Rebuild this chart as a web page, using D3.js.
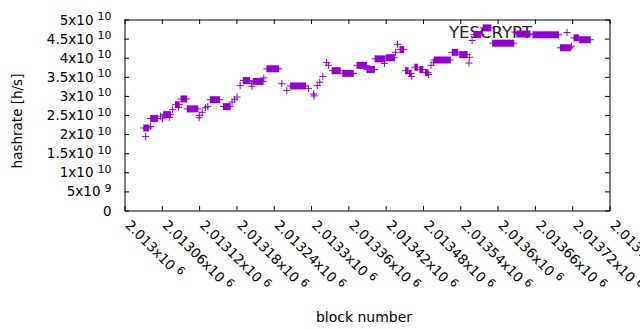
<!DOCTYPE html>
<html>
<head>
<meta charset="utf-8">
<script src="https://cdn.jsdelivr.net/npm/d3@7"></script>
<style>
body { margin: 0; background: white; }
svg { display: block; font-family: "DejaVu Sans", sans-serif; }
</style>
</head>
<body>
<script>
// x ticks (block number) and their labels, mantissa + exponent
const xTicks = [2013000, 2013060, 2013120, 2013180, 2013240, 2013300, 2013360,
    2013420, 2013480, 2013540, 2013600, 2013660, 2013720, 2013780];
const xTickLabels = ["2.013", "2.01306", "2.01312", "2.01318", "2.01324", "2.0133", "2.01336",
    "2.01342", "2.01348", "2.01354", "2.0136", "2.01366", "2.01372", "2.01378"];
const xTickExp = "6";

const yTicks = [0, 5e9, 1e10, 1.5e10, 2e10, 2.5e10, 3e10, 3.5e10, 4e10, 4.5e10, 5e10];
const yTickLabels = ["0", "5", "1", "1.5", "2", "2.5", "3", "3.5", "4", "4.5", "5"];
const yTickExp = ["", "9", "10", "10", "10", "10", "10", "10", "10", "10", "10"];

// runs of consecutive blocks sharing the same hashrate estimate
const runStart = [2013031, 2013034, 2013042, 2013042, 2013058, 2013061, 2013063, 2013072, 2013077, 2013082,
    2013087, 2013091, 2013101, 2013120, 2013121, 2013125, 2013130, 2013134, 2013138, 2013159,
    2013173, 2013177, 2013181, 2013186, 2013191, 2013204, 2013205, 2013207, 2013224, 2013229,
    2013253, 2013261, 2013267, 2013296, 2013304, 2013305, 2013310, 2013314, 2013319, 2013325,
    2013328, 2013334, 2013351, 2013374, 2013390, 2013403, 2013418, 2013421, 2013436, 2013439,
    2013443, 2013452, 2013458, 2013462, 2013467, 2013475, 2013484, 2013489, 2013493, 2013497,
    2013498, 2013527, 2013539, 2013554, 2013555, 2013559, 2013562, 2013577, 2013592, 2013628,
    2013631, 2013657, 2013701, 2013719, 2013723, 2013732];
const runEnd = [2013039, 2013034, 2013042, 2013053, 2013058, 2013061, 2013074, 2013072, 2013077, 2013088,
    2013087, 2013100, 2013118, 2013120, 2013121, 2013125, 2013130, 2013134, 2013153, 2013170,
    2013173, 2013177, 2013181, 2013186, 2013201, 2013204, 2013205, 2013223, 2013224, 2013248,
    2013253, 2013261, 2013291, 2013296, 2013304, 2013305, 2013310, 2013314, 2013319, 2013325,
    2013328, 2013347, 2013368, 2013389, 2013402, 2013419, 2013418, 2013434, 2013436, 2013439,
    2013449, 2013456, 2013461, 2013462, 2013471, 2013480, 2013488, 2013489, 2013493, 2013497,
    2013524, 2013536, 2013551, 2013554, 2013555, 2013559, 2013573, 2013589, 2013626, 2013628,
    2013652, 2013698, 2013717, 2013719, 2013730, 2013749];
const hashrate = [2.16e10, 1.94e10, 2.20e10, 2.41e10, 2.47e10, 2.40e10, 2.51e10, 2.44e10, 2.64e10, 2.77e10,
    2.70e10, 2.92e10, 2.66e10, 2.43e10, 2.49e10, 2.57e10, 2.69e10, 2.72e10, 2.90e10, 2.72e10,
    2.84e10, 2.91e10, 2.97e10, 3.27e10, 3.40e10, 3.33e10, 3.25e10, 3.38e10, 3.47e10, 3.71e10,
    3.32e10, 3.14e10, 3.26e10, 3.19e10, 3.05e10, 3.00e10, 3.27e10, 3.36e10, 3.51e10, 3.87e10,
    3.80e10, 3.66e10, 3.59e10, 3.80e10, 3.69e10, 3.97e10, 3.85e10, 4.00e10, 4.14e10, 4.35e10,
    4.21e10, 3.66e10, 3.59e10, 3.51e10, 3.75e10, 3.69e10, 3.61e10, 3.56e10, 3.80e10, 3.88e10,
    3.94e10, 4.14e10, 4.08e10, 3.86e10, 4.01e10, 4.45e10, 4.61e10, 4.78e10, 4.38e10, 4.67e10,
    4.62e10, 4.60e10, 4.26e10, 4.30e10, 4.52e10, 4.47e10];

const seriesName = "YESCRYPT";
const color = "#9400d3";

const wSvg = 640, hSvg = 330;
const pLeft = 124.5, pRight = 609.5, pTop = 19.5, pBottom = 210.5;
const tick = 4.5, arm = 3.5;

const x = d3.scaleLinear([2013000, 2013780], [pLeft, pRight]);
const y = d3.scaleLinear([0, 5e10], [pBottom, pTop]);

const svg = d3.select("body").append("svg")
    .attr("width", wSvg)
    .attr("height", hSvg);

// inward ticks on all four sides
svg.append("g")
    .attr("transform", `translate(0,${pBottom})`)
    .call(d3.axisBottom(x).tickValues(xTicks).tickSizeInner(-tick).tickSizeOuter(0).tickFormat(""));
svg.append("g")
    .attr("transform", `translate(0,${pTop})`)
    .call(d3.axisTop(x).tickValues(xTicks).tickSizeInner(-tick).tickSizeOuter(0).tickFormat(""));
svg.append("g")
    .attr("transform", `translate(${pLeft},0)`)
    .call(d3.axisLeft(y).tickValues(yTicks).tickSizeInner(-tick).tickSizeOuter(0).tickFormat(""));
svg.append("g")
    .attr("transform", `translate(${pRight},0)`)
    .call(d3.axisRight(y).tickValues(yTicks).tickSizeInner(-tick).tickSizeOuter(0).tickFormat(""));

svg.selectAll(".domain, .tick line").attr("stroke", "black").attr("stroke-width", 1);

// y tick labels with exponent
yTicks.forEach((v, i) => {
    let t = svg.append("text")
        .attr("x", 111.5)
        .attr("y", y(v) + 5)
        .attr("text-anchor", "end")
        .attr("font-size", 13.5)
        .attr("fill", "black");
    if (yTickExp[i] === "") {
        t.text(yTickLabels[i]);
    } else {
        t.append("tspan").text(yTickLabels[i] + "x10");
        t.append("tspan")
            .attr("font-size", 11)
            .attr("dx", 4)
            .attr("dy", -4.5)
            .text(yTickExp[i]);
    }
});

// rotated x tick labels
xTicks.forEach((v, i) => {
    let t = svg.append("text")
        .attr("transform", `translate(${x(v)},${226}) rotate(45)`)
        .attr("font-size", 13.5)
        .attr("fill", "black");
    t.append("tspan").text(xTickLabels[i] + "x10");
    t.append("tspan")
        .attr("font-size", 11)
        .attr("dx", 4)
        .attr("dy", -4.5)
        .text(xTickExp);
});

// axis titles
svg.append("text")
    .attr("x", 364)
    .attr("y", 322)
    .attr("text-anchor", "middle")
    .attr("font-size", 14)
    .text("block number");

svg.append("text")
    .attr("transform", `translate(22,121) rotate(-90)`)
    .attr("text-anchor", "middle")
    .attr("font-size", 13.5)
    .text("hashrate [h/s]");

// key (drawn first, the points go over it)
svg.append("text")
    .attr("x", 532)
    .attr("y", 37.5)
    .attr("text-anchor", "end")
    .attr("font-size", 16.5)
    .attr("fill", "#222")
    .text(seriesName);
svg.append("path")
    .attr("d", `M${567 - arm},32.5H${567 + arm}M567,${32.5 - arm}V${32.5 + arm}`)
    .attr("stroke", color)
    .attr("stroke-width", 1);

// data: each run is a stack of '+' points
const runs = runStart.map((s, i) => ({ s: s, e: runEnd[i], v: hashrate[i] }));

const pts = svg.append("g");
pts.selectAll("rect")
    .data(runs)
    .enter()
    .append("rect")
    .attr("x", d => x(d.s) - 0.5)
    .attr("width", d => x(d.e) - x(d.s) + 1)
    .attr("y", d => y(d.v) - arm)
    .attr("height", arm * 2)
    .attr("fill", color);
pts.selectAll("line")
    .data(runs)
    .enter()
    .append("line")
    .attr("x1", d => x(d.s) - arm)
    .attr("x2", d => x(d.e) + arm)
    .attr("y1", d => y(d.v))
    .attr("y2", d => y(d.v))
    .attr("stroke", color)
    .attr("stroke-width", 1);
</script>
</body>
</html>
